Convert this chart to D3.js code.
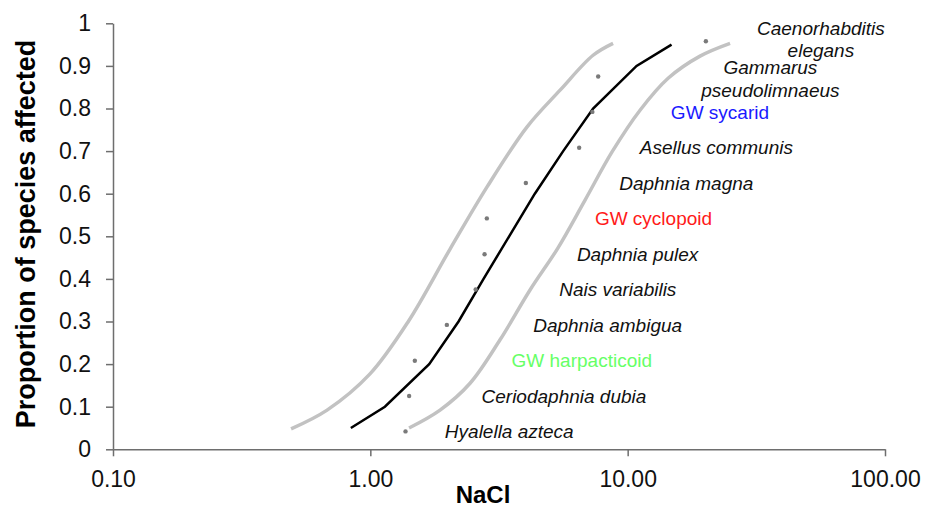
<!DOCTYPE html>
<meta charset="utf-8">
<style>
body { margin: 0; background: #fff; }
text { font-family: Arial, "Liberation Sans", sans-serif; }
.axis path, .axis line { stroke: #6e6e6e; stroke-width: 1.5px; }
.axis text { font-size: 23px; fill: #111; }
.band { fill: none; stroke: #c2c2c2; stroke-width: 3.5px; }
.fit { fill: none; stroke: #000; stroke-width: 2.5px; }
.dot { fill: #7a7a7a; }
.lab { font-size: 19px; font-style: italic; fill: #111; }
</style>
<body>
<script src="https://d3js.org/d3.v7.min.js"></script>
<script>

// species sensitivity data (NaCl, proportion of species affected)
var species = ["Hyalella azteca", "Ceriodaphnia dubia", "GW harpacticoid", "Daphnia ambigua",
  "Nais variabilis", "Daphnia pulex", "GW cyclopoid", "Daphnia magna", "Asellus communis",
  "GW sycarid", "Gammarus pseudolimnaeus", "Caenorhabditis elegans"];
var nacl = [1.370, 1.415, 1.489, 1.983, 2.566, 2.779, 2.836, 4.021, 6.479, 7.293, 7.681, 20.13];
var proportion = [0.042, 0.125, 0.208, 0.292, 0.375, 0.458, 0.542, 0.625, 0.708, 0.792, 0.875, 0.958];

// fitted curve
var fitProp = [0.05, 0.1, 0.2, 0.3, 0.4, 0.5, 0.6, 0.7, 0.8, 0.9, 0.95];
var fitNaCl = [0.84, 1.139, 1.693, 2.202, 2.754, 3.463, 4.358, 5.615, 7.34, 10.83, 14.81];

// confidence bands
var lowProp = [0.048, 0.092, 0.177, 0.299, 0.470, 0.616, 0.757, 0.843, 0.925, 0.953];
var lowNaCl = [0.492, 0.679, 0.997, 1.401, 2.041, 2.842, 4.066, 5.462, 7.338, 8.777];
var highProp = [0.05, 0.092, 0.155, 0.257, 0.374, 0.473, 0.585, 0.698, 0.796, 0.871, 0.923, 0.953];
var highNaCl = [1.414, 1.866, 2.441, 3.192, 4.174, 5.363, 6.830, 8.695, 11.17, 14.36, 19.11, 25.00];

// label anchors (NaCl value where each label sits)
var labelNaCl = [1.948, 2.705, 3.538, 4.293, 5.418, 6.348, 7.458, 9.27, 11.15, 14.72, 35.86, 56.35];
var labelColor = {"GW harpacticoid": "#66ff66", "GW cyclopoid": "#ff1a1a", "GW sycarid": "#1a1aff"};

var xTicks = [0.1, 1, 10, 100];
var xTickLabels = ["0.10", "1.00", "10.00", "100.00"];
var yTicks = [0, 0.1, 0.2, 0.3, 0.4, 0.5, 0.6, 0.7, 0.8, 0.9, 1];
var yTickLabels = ["0", "0.1", "0.2", "0.3", "0.4", "0.5", "0.6", "0.7", "0.8", "0.9", "1"];

var W = 926, H = 508;
var margin = {top: 23.3, right: 41, bottom: 58.7, left: 113};

var svg = d3.select("body").append("svg")
    .attr("width", W)
    .attr("height", H);

var x = d3.scaleLog().domain([0.1, 100]).range([margin.left, W - margin.right]);
var y = d3.scaleLinear().domain([0, 1]).range([H - margin.bottom, margin.top]);

// axes
svg.append("g")
    .attr("class", "axis")
    .attr("transform", "translate(0," + y(0) + ")")
    .call(d3.axisBottom(x).tickValues(xTicks)
      .tickFormat(function(d, i) { return xTickLabels[i]; })
      .tickSize(7).tickSizeOuter(0).tickPadding(14));

svg.append("g")
    .attr("class", "axis")
    .attr("transform", "translate(" + x(0.1) + ",0)")
    .call(d3.axisLeft(y).tickValues(yTicks)
      .tickFormat(function(d, i) { return yTickLabels[i]; })
      .tickSize(7).tickSizeOuter(0).tickPadding(15));

// axis titles
svg.append("text")
    .attr("x", 483).attr("y", 503)
    .attr("text-anchor", "middle")
    .style("font-size", "24px").style("font-weight", "bold")
    .text("NaCl");

svg.append("text")
    .attr("transform", "translate(35,234) rotate(-90)")
    .attr("text-anchor", "middle")
    .style("font-size", "27px").style("font-weight", "bold")
    .text("Proportion of species affected");

var line = d3.line()
    .x(function(d) { return x(d[0]); })
    .y(function(d) { return y(d[1]); });

var smooth = d3.line()
    .x(function(d) { return x(d[0]); })
    .y(function(d) { return y(d[1]); })
    .curve(d3.curveCatmullRom.alpha(0.5));

svg.append("path").attr("class", "band").attr("d", smooth(d3.zip(lowNaCl, lowProp)));
svg.append("path").attr("class", "band").attr("d", smooth(d3.zip(highNaCl, highProp)));
svg.append("path").attr("class", "fit").attr("d", line(d3.zip(fitNaCl, fitProp)));

svg.selectAll(".dot")
    .data(d3.zip(nacl, proportion))
  .enter().append("circle")
    .attr("class", "dot")
    .attr("cx", function(d) { return x(d[0]); })
    .attr("cy", function(d) { return y(d[1]); })
    .attr("r", 2.2);

// species labels
species.forEach(function(name, i) {
  var gw = name.indexOf("GW") === 0;
  var words = name.split(" ");
  var t = svg.append("text")
      .attr("class", "lab")
      .style("font-style", gw ? "normal" : "italic")
      .style("fill", labelColor[name] || "#111");
  if (i >= 10) {
    // two-line labels at the top
    var cy = y(proportion[i]) + (i === 10 ? 2.3 : -1.7);
    t.attr("text-anchor", "middle");
    t.append("tspan").attr("x", x(labelNaCl[i])).attr("y", cy - 11.3)
      .attr("dy", "0.35em").text(words[0]);
    t.append("tspan").attr("x", x(labelNaCl[i])).attr("y", cy + 11.3)
      .attr("dy", "0.35em").text(words[1]);
  } else {
    t.attr("x", x(labelNaCl[i])).attr("y", y(proportion[i]))
      .attr("dy", "0.35em").text(name);
  }
});

</script>
</body>
